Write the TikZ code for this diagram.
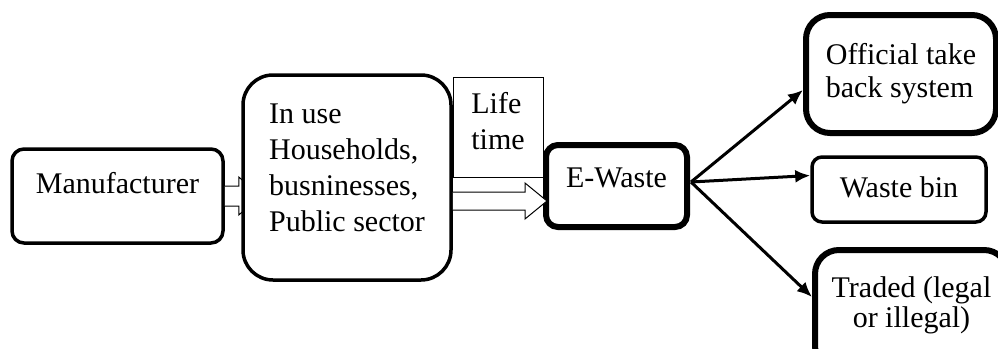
\documentclass[tikz,border=0pt]{standalone}
\usepackage{fontspec}
\setmainfont{Liberation Serif}
\usepackage{tikz}
\usetikzlibrary{calc,arrows.meta,positioning}
\def\BoxThin{3.5pt}
\def\BoxThick{6pt}
\tikzset{
	stagebox/.style={draw,line width=\BoxThin,rounded corners=12pt,fill=white,align=center,inner sep=0pt},
	endbox/.style={stagebox,line width=\BoxThick,rounded corners=24pt},
	hollow/.style={draw,line width=1pt,fill=white,line join=miter},
	flow/.style={line width=3pt,-{Latex[length=15pt,width=13pt]}},
}

\begin{document}
\begin{tikzpicture}[x=1pt,y=-1pt,font={\fontsize{30}{36}\selectfont}]
			\useasboundingbox (0,0) rectangle (998,348);
			\clip (0,0) rectangle (998,348);
			% 
			\node[stagebox,minimum width=211pt,minimum height=94pt,text depth=26.5pt] (manuf) at (117.5,196) {Manufacturer};
			% tip of this one is hidden under the next box
			\draw[hollow] ($(manuf.east)+(0,-10)$) -- ++(14,0) -- ++(0,-9) -- ++(22,19) -- ++(-22,19) -- ++(0,-9) -- ($(manuf.east)+(0,10)$);
			\node[stagebox,rounded corners=30pt,align=left,minimum width=208pt,minimum height=205pt,text depth=19pt] (inuse) at (347,177.5) {In use\\Households,\\busninesses,\\Public sector};
			\node[draw,line width=1pt,align=left,inner sep=0pt,minimum width=90pt,minimum height=100pt,text depth=12.5pt] (life) at (498,127) {Life\\time};
			% 
			\node[stagebox,line width=\BoxThick,minimum width=141pt,minimum height=82pt,text depth=16pt] (ewaste) at (616.5,186) {E-Waste};
			\coordinate (tip) at ($(ewaste.west)+(4,15)$);
			\draw[hollow] ($(inuse.east |- tip)+(0,-9)$) -- ($(tip)+(-22,-9)$) -- ($(tip)+(-22,-18)$) -- (tip) -- ($(tip)+(-22,18)$) -- ($(tip)+(-22,9)$) -- ($(inuse.east |- tip)+(0,9)$);
			% 
			\node[endbox,align=left,minimum width=190pt,minimum height=118pt,font={\fontsize{30}{33}\selectfont}] (official) at (901,74) {Official take\\back system};
			\node[stagebox,rounded corners=10pt,minimum width=174pt,minimum height=65pt,text depth=5.5pt] (wastebin) at (899,189.5) {Waste bin};
			\node[endbox,minimum width=193pt,minimum height=120pt,text depth=16.5pt,font={\fontsize{30}{30}\selectfont}] (traded) at (911.5,310) {Traded (legal\\or illegal)};
			% 
			\coordinate (fork) at ($(ewaste.east)+(1,-4)$);
			\draw[flow] (fork) -- ($(official.west)+(0,16)$);
			\draw[flow] (fork) -- ($(wastebin.west)+(0,-14)$);
			\draw[flow] (fork) -- ($(traded.west)+(0,-13)$);
\end{tikzpicture}
\end{document}
